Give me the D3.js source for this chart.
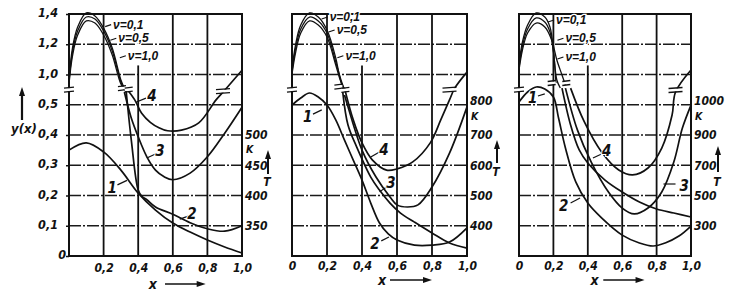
<!DOCTYPE html>
<html>
<head>
<meta charset="utf-8">
<script src="https://cdn.jsdelivr.net/npm/d3@7"></script>
<style>
  body { margin: 0; background: #fff; }
  svg text { font-family: "Liberation Sans Narrow", "DejaVu Sans Condensed", sans-serif; font-style: italic; font-weight: bold; fill: #111; }
  .nu text { font-family: "Liberation Sans", sans-serif; }
</style>
</head>
<body>
<div id="chart"></div>
<script>
// ticks
const xTicks = [0, 0.2, 0.4, 0.6, 0.8, 1.0];
const yTicks = [0, 0.1, 0.2, 0.3, 0.4, 0.5, 1.0, 1.2, 1.4];   // left axis is broken between 0,5 and 1,0
const tTicks1 = [350, 400, 450, 500];
const tTicks2 = [400, 500, 600, 700, 800];
const tTicks3 = [300, 500, 700, 900, 1000];
const nuNames = ["ν=0,1", "ν=0,5", "ν=1,0"];

// panel 1 : y(x) for nu = 0.1, 0.5, 1.0 ; curve 1 = y(x) ; curves 2-4 = T (K)
const nu1a = [[0,0.909],[0.02,1.175],[0.05,1.314],[0.1,1.407],[0.15,1.387],[0.2,1.307],[0.25,1.175],[0.3,0.909],[0.32,0.777]];
const nu1b = [[0,0.876],[0.02,1.149],[0.05,1.288],[0.1,1.380],[0.15,1.367],[0.2,1.288],[0.25,1.155],[0.3,0.876],[0.32,0.744]];
const nu1c = [[0,0.843],[0.02,1.122],[0.05,1.261],[0.1,1.354],[0.15,1.340],[0.2,1.261],[0.25,1.129],[0.3,0.843],[0.33,0.711]];
const c1p1 = [[0,0.350],[0.1,0.374],[0.2,0.344],[0.3,0.284],[0.4,0.208],[0.5,0.152],[0.6,0.109],[0.7,0.079],[0.8,0.053],[0.9,0.030],[1.0,0.010]];
const c2p1 = [[0.33,574],[0.36,492],[0.4,409],[0.42,399],[0.45,393],[0.5,381],[0.6,369],[0.7,355],[0.8,345],[0.9,341],[1.0,350]];
const c3p1 = [[0.32,571],[0.36,528],[0.4,497],[0.45,464],[0.5,442],[0.55,431],[0.6,426],[0.7,437],[0.8,464],[0.9,503],[1.0,546]];
const c4p1 = [[0.34,574],[0.38,558],[0.42,536],[0.47,521],[0.52,512],[0.57,507],[0.65,508],[0.75,520],[0.85,558],[0.9,574],[1.0,607]];

// panel 2
const nu2a = [[0,1.030],[0.02,1.195],[0.05,1.327],[0.1,1.407],[0.15,1.380],[0.2,1.294],[0.25,1.109],[0.27,0.992],[0.29,0.777]];
const nu2b = [[0,1.017],[0.02,1.169],[0.05,1.301],[0.1,1.380],[0.15,1.354],[0.2,1.274],[0.25,1.083],[0.28,0.909],[0.3,0.744]];
const nu2c = [[0,1.003],[0.02,1.142],[0.05,1.274],[0.1,1.354],[0.15,1.327],[0.2,1.248],[0.25,1.063],[0.28,0.876],[0.31,0.711]];
const c1p2 = [[0,0.499],[0.05,0.612],[0.1,0.694],[0.15,0.628],[0.2,0.499],[0.25,0.450],[0.3,0.383],[0.35,0.317],[0.4,0.251],[0.45,0.175],[0.5,0.109],[0.55,0.073],[0.6,0.053],[0.7,0.036],[0.8,0.036],[0.9,0.046],[1.0,0.093]];
const c2p2 = [[0.29,842],[0.32,733],[0.37,660],[0.45,561],[0.5,518],[0.56,475],[0.62,442],[0.7,412],[0.8,376],[0.9,343],[1.0,326]];
const c3p2 = [[0.3,832],[0.32,793],[0.4,650],[0.48,561],[0.56,495],[0.6,469],[0.66,462],[0.72,469],[0.8,528],[0.9,640],[1.0,793]];
const c4p2 = [[0.3,855],[0.35,750],[0.4,674],[0.46,617],[0.54,584],[0.6,588],[0.69,611],[0.79,674],[0.85,750],[0.9,816],[0.93,855],[1.0,908]];

// panel 3
const nu3a = [[0,1.063],[0.02,1.215],[0.05,1.327],[0.1,1.407],[0.15,1.380],[0.18,1.314],[0.2,1.162],[0.215,0.860]];
const nu3b = [[0,1.043],[0.02,1.188],[0.05,1.301],[0.1,1.374],[0.15,1.347],[0.18,1.281],[0.2,1.149],[0.22,0.909],[0.24,0.777]];
const nu3c = [[0,1.030],[0.02,1.162],[0.05,1.274],[0.1,1.340],[0.15,1.314],[0.19,1.228],[0.22,1.096],[0.25,0.992],[0.27,0.826]];
const c1p3 = [[0,0.545],[0.05,0.711],[0.1,0.793],[0.15,0.760],[0.2,0.628],[0.23,0.456],[0.27,0.357],[0.33,0.245],[0.4,0.175],[0.48,0.126],[0.6,0.069],[0.7,0.043],[0.78,0.033],[0.85,0.043],[0.93,0.066],[1.0,0.099]];
const c2p3 = [[0.25,1055],[0.3,933],[0.35,801],[0.4,715],[0.5,602],[0.6,523],[0.7,457],[0.8,411],[0.9,384],[1.0,358]];
const c3p3 = [[0.27,1055],[0.34,916],[0.42,721],[0.52,523],[0.6,417],[0.67,378],[0.75,417],[0.83,523],[0.9,721],[0.95,923],[1.0,999]];
const c4p3 = [[0.3,1055],[0.38,943],[0.48,788],[0.58,669],[0.66,636],[0.75,682],[0.83,814],[0.89,966],[0.91,1042],[1.0,1115]];

const width = 736, height = 297;
const plotBottom = 256, plotTop = 14, step = (plotBottom - plotTop) / 8;
const lv = L => plotBottom - L * step;   // grid level -> pixel

const y = d3.scaleLinear().domain([0, 0.5, 1.0, 1.4]).range([lv(0), lv(5), lv(6), lv(8)]);
const t1 = d3.scaleLinear().domain([300, 550]).range([lv(0), lv(5)]);
const t2 = d3.scaleLinear().domain([300, 800]).range([lv(0), lv(5)]);
const t3 = d3.scaleLinear().domain([100, 900, 1000]).range([lv(0), lv(4), lv(5)]);

// layout of each panel (labels placed in x / grid-level units)
const panels = [
  { x0: 69, x1: 242, t: t1, tTicks: tTicks1, nu: [nu1a, nu1b, nu1c], c1: c1p1, cT: [c2p1, c3p1, c4p1],
    zeroX: false, tickPad: 7, topDy: "0.3em", kOff: 18, nuPos: [[0.255, 7.65], [0.285, 7.2], [0.34, 6.62]],
    nums: [["1", 0.25, 2.25, [0.28, 2.35, 0.335, 2.5]], ["2", 0.71, 1.39, [0.64, 1.22, 0.69, 1.32]],
           ["3", 0.526, 3.47, [0.45, 3.24, 0.5, 3.37]], ["4", 0.48, 5.29, [0.39, 5.09, 0.445, 5.22]]],
    breaks: [[0.306, 5.55, 8], [0.345, 5.5, 8], [0.89, 5.45, 14]], xLab: [0.485, 0.555, 0.79, 284],
    tArrow: [268, 150, 174, 186] },
  { x0: 292, x1: 467, t: t2, tTicks: tTicks2, nu: [nu2a, nu2b, nu2c], c1: c1p2, cT: [c2p2, c3p2, c4p2],
    zeroX: true, tickPad: 5, topDy: "-0.05em", kOff: 15, nuPos: [[0.215, 7.9], [0.255, 7.47], [0.305, 6.62]],
    nums: [["1", 0.09, 4.6, [0.12, 4.69, 0.17, 4.83]], ["4", 0.526, 3.5, [0.45, 3.27, 0.5, 3.44]],
           ["3", 0.566, 2.41, [0.5, 2.12, 0.54, 2.28]], ["2", 0.474, 0.4, [0.51, 0.5, 0.554, 0.63]]],
    breaks: [[0.265, 5.6, 8], [0.305, 5.49, 8], [0.9, 5.5, 14]], xLab: [0.514, 0.56, 0.8, 280],
    tArrow: [497, 140, 163, 176] },
  { x0: 519, x1: 691, t: t3, tTicks: tTicks3, nu: [nu3a, nu3b, nu3c], c1: c1p3, cT: [c2p3, c3p3, c4p3],
    zeroX: true, tickPad: 5, topDy: "-0.05em", kOff: 15, nuPos: [[0.215, 7.8], [0.27, 7.2], [0.27, 6.58]],
    nums: [["1", 0.08, 5.22, [0.11, 5.29, 0.15, 5.36]], ["4", 0.51, 3.47, [0.43, 3.24, 0.48, 3.37]],
           ["3", 0.96, 2.31, [0.84, 2.38, 0.91, 2.38]], ["2", 0.26, 1.65, [0.30, 1.75, 0.355, 1.92]]],
    breaks: [[0.19, 5.72, 8], [0.275, 5.72, 8], [0.91, 5.49, 14]], xLab: [0.44, 0.49, 0.73, 280],
    tArrow: [718, 146, 172, 186] }
];

const fmt = d => d === 0 ? "0" : d3.format(".1f")(d).replace(".", ",");

const svg = d3.select("#chart").append("svg")
  .attr("width", width).attr("height", height)
  .attr("viewBox", [0, 0, width, height]);
svg.append("rect").attr("width", width).attr("height", height).attr("fill", "#fff");

function arrowHead(g, x, yy, dir) { // dir: "up" or "right"
  const pts = dir === "up" ? [[x, yy], [x - 3, yy + 9], [x + 3, yy + 9]] : [[x, yy], [x - 9, yy - 3], [x - 9, yy + 3]];
  g.append("path").attr("d", d3.line()(pts) + "Z").attr("fill", "#111");
}

panels.forEach((p, i) => {
  const x = d3.scaleLinear().domain([0, 1]).range([p.x0, p.x1]);
  const g = svg.append("g");

  // horizontal grid (dash-dot as in the print)
  g.append("g").selectAll("line")
    .data(yTicks.filter(d => d > 0 && d < 1.4))
    .join("line")
    .attr("x1", p.x0).attr("x2", p.x1)
    .attr("y1", d => y(d)).attr("y2", d => y(d))
    .attr("stroke", "#1a1a1a").attr("stroke-width", 1.3)
    .attr("stroke-dasharray", "12,2,2,2");

  // vertical grid, the 0,4 line stops under the nu labels
  g.append("g").selectAll("line")
    .data(xTicks.filter(d => d > 0 && d < 1))
    .join("line")
    .attr("x1", d => x(d)).attr("x2", d => x(d))
    .attr("y1", d => d === 0.4 ? y(1.06) : y(1.4)).attr("y2", y(0))
    .attr("stroke", "#111").attr("stroke-width", 1.8);

  // frame
  g.append("rect").attr("x", p.x0).attr("y", y(1.4)).attr("width", p.x1 - p.x0).attr("height", y(0) - y(1.4))
    .attr("fill", "none").attr("stroke", "#111").attr("stroke-width", 2);

  // axes
  const xa = g.append("g").attr("transform", `translate(0,${y(0)})`)
    .call(d3.axisBottom(x).tickValues(p.zeroX ? xTicks : xTicks.slice(1)).tickFormat(fmt).tickSize(0).tickPadding(p.tickPad));
  xa.select(".domain").remove();
  xa.attr("font-family", null).attr("font-size", 12);

  if (i === 0) {
    const ya = g.append("g").attr("transform", `translate(${p.x0},0)`)
      .call(d3.axisLeft(y).tickValues(yTicks).tickFormat(fmt).tickSize(3).tickPadding(8));
    ya.select(".domain").remove();
    ya.attr("font-family", null).attr("font-size", 12.5);
    ya.selectAll("line").attr("stroke", "#111").attr("stroke-width", 1.5);
    ya.selectAll("text").attr("dy", "0.2em").filter(d => d === 0).attr("x", -3);
  }

  const ta = g.append("g").attr("transform", `translate(${p.x1},0)`)
    .call(d3.axisRight(p.t).tickValues(p.tTicks).tickFormat(d3.format("d")).tickSize(0).tickPadding(3));
  ta.select(".domain").remove();
  ta.attr("font-family", null).attr("font-size", 12);
  const tMax = d3.max(p.tTicks);
  ta.selectAll("text").filter(d => d === tMax).attr("dy", p.topDy);
  g.append("text").attr("x", p.x1 + 4).attr("y", p.t(tMax) + p.kOff).attr("font-size", 10.5).text("K");

  // T arrow
  const [ax, ay1, ay2, tyy] = p.tArrow;
  g.append("line").attr("x1", ax).attr("x2", ax).attr("y1", ay2).attr("y2", ay1 + 6)
    .attr("stroke", "#111").attr("stroke-width", 2);
  arrowHead(g, ax, ay1, "up");
  g.append("text").attr("x", ax - 1).attr("y", tyy).attr("text-anchor", "middle").attr("font-size", 12).text("T");

  // x arrow label
  const [lx, a0, a1, ly] = p.xLab;
  g.append("text").attr("x", x(lx)).attr("y", ly + 5).attr("text-anchor", "middle").attr("font-size", 14).text("x");
  g.append("line").attr("x1", x(a0)).attr("x2", x(a1) - 6).attr("y1", ly).attr("y2", ly)
    .attr("stroke", "#111").attr("stroke-width", 1.6);
  arrowHead(g, x(a1), ly, "right");

  // curves
  const lineY = d3.line().x(d => x(d[0])).y(d => y(d[1])).curve(d3.curveCatmullRom.alpha(0.5));
  const lineT = d3.line().x(d => x(d[0])).y(d => p.t(d[1])).curve(d3.curveCatmullRom.alpha(0.5));

  g.append("g").selectAll("path").data(p.nu).join("path")
    .attr("d", lineY).attr("fill", "none").attr("stroke", "#111").attr("stroke-width", 1.3);
  g.append("path").datum(p.c1).attr("d", lineY).attr("fill", "none").attr("stroke", "#111").attr("stroke-width", 1.7);
  g.append("g").selectAll("path").data(p.cT).join("path")
    .attr("d", lineT).attr("fill", "none").attr("stroke", "#111").attr("stroke-width", 1.7);

  // break marks on the axis and on the curves
  const brk = [[0, 5.5, 10]].concat(p.breaks);
  brk.forEach(([bx, bl, bw]) => {
    const cx = x(bx), cy = lv(bl);
    g.append("rect").attr("x", cx - bw / 2).attr("y", cy - 1.5).attr("width", bw).attr("height", 3).attr("fill", "#fff");
    [-2, 2].forEach(o => g.append("line")
      .attr("x1", cx - bw / 2).attr("x2", cx + bw / 2).attr("y1", cy + o + 0.5).attr("y2", cy + o - 0.5)
      .attr("stroke", "#111").attr("stroke-width", 1.4));
  });

  // nu labels with short leaders
  const nuG = g.append("g").attr("class", "nu");
  nuNames.forEach((s, k) => {
    const [nx, nl] = p.nuPos[k];
    nuG.append("line").attr("x1", x(nx) - 8).attr("x2", x(nx) - 2).attr("y1", lv(nl) + 2).attr("y2", lv(nl))
      .attr("stroke", "#111").attr("stroke-width", 1.2);
    nuG.append("text").attr("x", x(nx)).attr("y", lv(nl)).attr("dy", "0.35em").attr("font-size", 12)
      .attr("stroke", "#fff").attr("stroke-width", 2.5).attr("paint-order", "stroke").text(s);
  });

  // curve numbers with leaders
  p.nums.forEach(([s, nx, nl, ld]) => {
    g.append("line").attr("x1", x(ld[0])).attr("y1", lv(ld[1])).attr("x2", x(ld[2])).attr("y2", lv(ld[3]))
      .attr("stroke", "#111").attr("stroke-width", 1.2);
    g.append("text").attr("x", x(nx)).attr("y", lv(nl)).attr("dy", "0.35em").attr("text-anchor", "middle")
      .attr("font-size", 15).attr("stroke", "#fff").attr("stroke-width", 2).attr("paint-order", "stroke").text(s);
  });
});

// y(x) label with arrow
svg.append("text").attr("x", 24).attr("y", 133).attr("text-anchor", "middle").attr("font-size", 13).text("y(x)");
svg.append("line").attr("x1", 22).attr("x2", 22).attr("y1", 120).attr("y2", 94).attr("stroke", "#111").attr("stroke-width", 2.2);
arrowHead(svg, 22, 87, "up");
</script>
</body>
</html>
